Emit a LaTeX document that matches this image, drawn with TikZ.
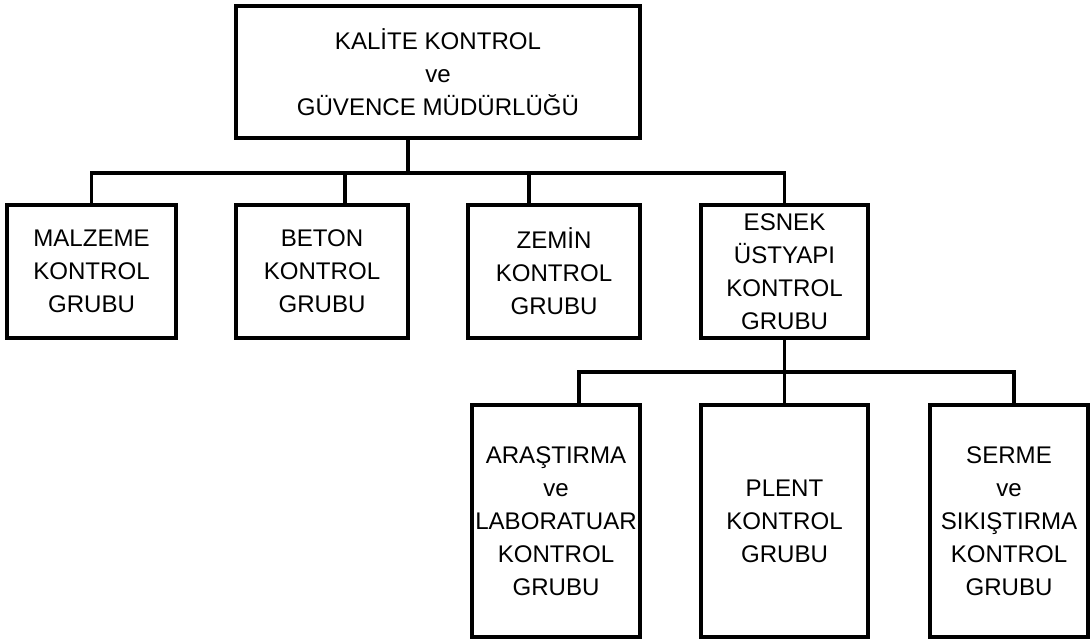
\documentclass[tikz,border=0pt]{standalone}
\usepackage{fontspec}
\setmainfont{Liberation Sans}
\usepackage{tikz}

\begin{document}
\begin{tikzpicture}[
    kutu/.style={draw, line width=2pt, align=center, inner sep=0pt,
        font=\fontsize{13.7pt}{18.8pt}\selectfont},
    hat/.style={line width=2pt}]
    \useasboundingbox (0,0) rectangle (21.8,-12.82);
    % Mudurluk
    \node[kutu, minimum width=8.08cm, minimum height=2.64cm] (kalite) at (8.76,-1.44) {KALİTE KONTROL\\ve\\GÜVENCE MÜDÜRLÜĞÜ};
    % Birinci kademe gruplar
    \node[kutu, minimum width=3.38cm, minimum height=2.66cm] (malzeme) at (1.83,-5.43) {MALZEME\\KONTROL\\GRUBU};
    \node[kutu, minimum width=3.44cm, minimum height=2.66cm] (beton) at (6.44,-5.43) {BETON\\KONTROL\\GRUBU};
    \node[kutu, minimum width=3.44cm, minimum height=2.66cm] (zemin) at (11.08,-5.43) {ZEMİN\\KONTROL\\GRUBU};
    \node[kutu, minimum width=3.34cm, minimum height=2.66cm] (esnek) at (15.69,-5.43) {ESNEK\\ÜSTYAPI\\KONTROL\\GRUBU};
    % Ikinci kademe gruplar
    \node[kutu, minimum width=3.36cm, minimum height=4.64cm] (arastirma) at (11.12,-10.42) {ARAŞTIRMA\\ve\\LABORATUAR\\KONTROL\\GRUBU};
    \node[kutu, minimum width=3.34cm, minimum height=4.64cm] (plent) at (15.69,-10.42) {PLENT\\KONTROL\\GRUBU};
    \node[kutu, minimum width=3.16cm, minimum height=4.64cm] (serme) at (20.18,-10.42) {SERME\\ve\\SIKIŞTIRMA\\KONTROL\\GRUBU};
    % Baglanti hatlari
    \coordinate (hat1) at (8.16,-3.46);
    \coordinate (hat2) at (15.69,-7.44);
    \draw[hat] (kalite.south -| hat1) -- (hat1);
    \draw[hat] (malzeme.north) |- (hat1);
    \draw[hat] (esnek.north) |- (hat1);
    \draw[hat] ([xshift=4.6mm]beton.north) -- ([xshift=4.6mm]beton.north |- hat1);
    \draw[hat] ([xshift=-5mm]zemin.north) -- ([xshift=-5mm]zemin.north |- hat1);
    \draw[hat] (esnek.south) -- (hat2);
    \draw[hat] ([xshift=4.6mm]arastirma.north) |- (hat2);
    \draw[hat] ([xshift=1mm]serme.north) |- (hat2);
    \draw[hat] (plent.north) -- (hat2);
\end{tikzpicture}
\end{document}
